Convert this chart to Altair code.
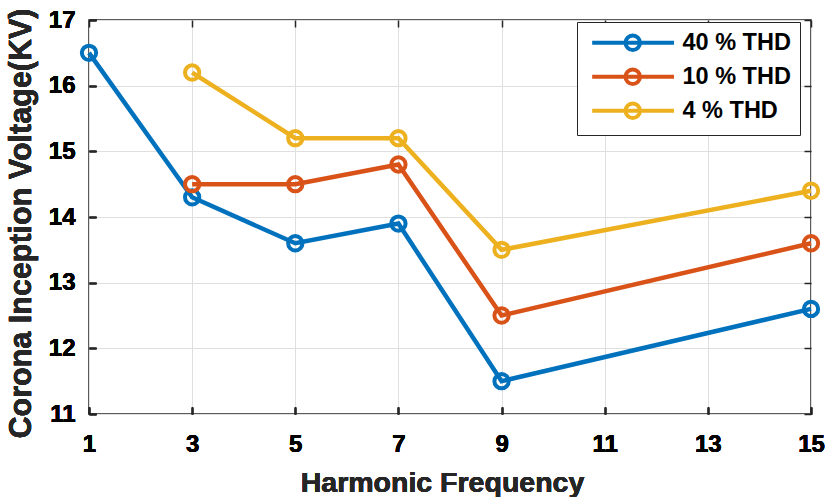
import altair as alt
import pandas as pd

# Corona inception voltage vs. harmonic order for three THD levels
harmonics_40 = [1, 3, 5, 7, 9, 15]
civ_40 = [16.5, 14.3, 13.6, 13.9, 11.5, 12.6]

harmonics_10 = [3, 5, 7, 9, 15]
civ_10 = [14.5, 14.5, 14.8, 12.5, 13.6]

harmonics_4 = [3, 5, 7, 9, 15]
civ_4 = [16.2, 15.2, 15.2, 13.5, 14.4]

series_names = ["40 % THD", "10 % THD", "4 % THD"]
series_colors = ["#0072BD", "#D95319", "#EDB120"]

x_ticks = [1, 3, 5, 7, 9, 11, 13, 15]
y_ticks = [11, 12, 13, 14, 15, 16, 17]

frames = []
for name, xs, ys in zip(series_names,
                        [harmonics_40, harmonics_10, harmonics_4],
                        [civ_40, civ_10, civ_4]):
    frames.append(pd.DataFrame({"series": name, "harmonic": xs, "civ": ys}))
df = pd.concat(frames, ignore_index=True)

FONT = "Liberation Sans"
INK = "#262626"

# legend glyph: a line segment with an open circle through its middle
legend_glyph = "M-5.6,0H5.7M-1,0A1,1,0,1,1,1,0A1,1,0,1,1,-1,0"

color = alt.Color(
    "series:N",
    scale=alt.Scale(domain=series_names, range=series_colors),
    legend=alt.Legend(
        title=None,
        orient="none",
        legendX=488,
        legendY=2,
        symbolType=legend_glyph,
        symbolSize=210,
        symbolStrokeWidth=4,
        symbolFillColor="transparent",
        symbolOffset=35,
        labelOffset=38,
        labelFont=FONT,
        labelFontSize=23.5,
        labelFontWeight="bold",
        labelColor="#000000",
        rowPadding=3,
        padding=9,
        strokeColor=INK,
        fillColor="white",
        cornerRadius=0,
    ),
)

x_main = alt.X(
    "harmonic:Q",
    scale=alt.Scale(domain=[1, 15], nice=False, zero=False),
    axis=alt.Axis(
        values=x_ticks, title="Harmonic Frequency", orient="bottom",
        offset=-7, tickSize=7, labelPadding=18, titlePadding=12,
        labelFlush=False, titleX=353, titleFontSize=28.5,
    ),
)
y_main = alt.Y(
    "civ:Q",
    scale=alt.Scale(domain=[11, 17], nice=False, zero=False),
    axis=alt.Axis(
        values=y_ticks, title="Corona Inception Voltage(KV)", orient="left",
        offset=-7, tickSize=7, labelPadding=14, titlePadding=12,
        labelFlush=False, titleY=203, titleFontSize=30.5,
    ),
)

layers = []
for name in series_names:
    sub = alt.Chart(df).transform_filter(alt.datum.series == name)
    layers.append(
        sub.mark_line(strokeWidth=4.5).encode(x=x_main, y=y_main, color=color)
    )
    layers.append(
        sub.mark_point(shape="circle", filled=False, size=205, strokeWidth=4, opacity=1)
        .encode(x=x_main, y=y_main, color=color)
    )

# mirrored ticks on the top and right edges of the box
mirror = alt.Chart(df).mark_point(opacity=0).encode(
    x=alt.X(
        "harmonic:Q",
        scale=alt.Scale(domain=[1, 15], nice=False, zero=False),
        axis=alt.Axis(values=x_ticks, orient="top", offset=-7, tickSize=7,
                      labels=False, grid=False, title=None),
    ),
    y=alt.Y(
        "civ:Q",
        scale=alt.Scale(domain=[11, 17], nice=False, zero=False),
        axis=alt.Axis(values=y_ticks, orient="right", offset=-7, tickSize=7,
                      labels=False, grid=False, title=None),
    ),
)

chart = (
    alt.layer(*layers, mirror)
    .resolve_axis(x="independent", y="independent")
    .properties(
        width=722,
        height=394,
        autosize=alt.AutoSizeParams(type="none"),
        padding={"left": 89, "top": 20, "right": 14, "bottom": 83},
    )
    .configure_view(stroke=INK, strokeWidth=1.5)
    .configure_axis(
        domain=False,
        grid=True,
        gridColor="#dfdfdf",
        gridWidth=1,
        tickColor=INK,
        tickWidth=1.5,
        labelFont=FONT,
        labelFontSize=24,
        labelFontWeight="bold",
        labelColor="#000000",
        titleFont=FONT,
        titleFontWeight="bold",
        titleColor="#262626",
    )
)

chart.save("out.html", embed_options={"renderer": "svg", "actions": False})
